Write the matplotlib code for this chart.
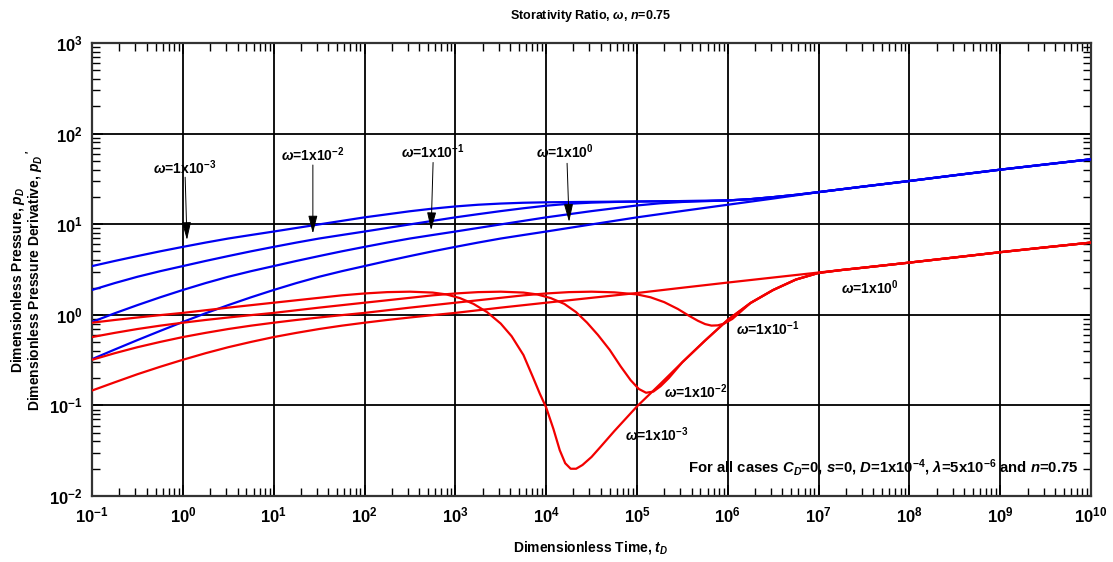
import numpy as np
import matplotlib
matplotlib.use("Agg")
import matplotlib.pyplot as plt
from matplotlib.ticker import FixedLocator, NullFormatter

plt.rcParams['font.family'] = ['Liberation Sans', 'DejaVu Sans']
plt.rcParams['font.weight'] = 'bold'
plt.rcParams['mathtext.fontset'] = 'custom'
plt.rcParams['mathtext.rm'] = 'Liberation Sans:bold'
plt.rcParams['mathtext.it'] = 'Liberation Sans:italic:bold'
plt.rcParams['mathtext.bf'] = 'Liberation Sans:bold'

# ---- dimensionless pressure p_D : log10(t_D) and value ----
pd_logt_w1 = [-1, -0.75, -0.5, -0.25, 0, 0.25, 0.5, 0.75, 1, 1.25, 1.5, 1.75, 2, 2.25, 2.5, 2.75, 3,
              3.25, 3.5, 3.75, 4, 4.5, 5, 5.5, 6, 6.5, 7, 7.5, 8, 8.5, 9, 9.5, 10]
pd_w1 = [0.324, 0.414, 0.526, 0.664, 0.834, 1.04, 1.28, 1.56, 1.88, 2.24, 2.63, 3.03, 3.45, 3.93, 4.45,
         5.02, 5.62, 6.27, 6.95, 7.6, 8.3, 9.95, 11.9, 14.0, 16.4, 19.2, 22.6, 26.1, 30.0, 34.7, 40.0,
         45.7, 52.1]

pd_logt_w01 = [-1, -0.75, -0.5, -0.25, 0, 0.25, 0.5, 0.75, 1, 1.25, 1.5, 1.75, 2, 2.25, 2.5, 2.75, 3,
               3.5, 4, 4.5, 5, 5.25, 5.5, 5.75, 6, 6.25, 6.5, 6.75, 7, 7.5, 8, 8.5, 9, 9.5, 10]
pd_w01 = [0.834, 1.04, 1.28, 1.56, 1.88, 2.24, 2.63, 3.03, 3.45, 3.93, 4.45, 5.02, 5.62, 6.27, 6.95, 7.6,
          8.3, 9.95, 11.9, 13.95, 16.1, 17.0, 17.6, 17.95, 18.3, 18.9, 19.9, 21.1, 22.6, 26.1, 30.0,
          34.7, 40.0, 45.7, 52.1]

pd_logt_w001 = [-1, -0.75, -0.5, -0.25, 0, 0.25, 0.5, 0.75, 1, 1.25, 1.5, 1.75, 2, 2.5, 3, 3.25, 3.5,
                3.75, 4, 4.25, 4.5, 4.75, 5, 5.5, 5.75, 6, 6.25, 6.5, 6.75, 7, 7.5, 8, 8.5, 9, 9.5, 10]
pd_w001 = [1.88, 2.24, 2.63, 3.03, 3.45, 3.93, 4.45, 5.02, 5.62, 6.27, 6.95, 7.6, 8.3, 9.95, 11.9, 12.9,
           13.95, 15.0, 16.0, 16.8, 17.3, 17.6, 17.8, 18.0, 18.1, 18.3, 18.9, 19.9, 21.1, 22.6, 26.1,
           30.0, 34.7, 40.0, 45.7, 52.1]

pd_logt_w0001 = [-1, -0.75, -0.5, -0.25, 0, 0.25, 0.5, 0.75, 1, 1.5, 2, 2.5, 2.75, 3, 3.25, 3.5, 3.75,
                 4, 4.5, 5, 5.5, 5.75, 6, 6.25, 6.5, 6.75, 7, 7.5, 8, 8.5, 9, 9.5, 10]
pd_w0001 = [3.45, 3.93, 4.45, 5.02, 5.62, 6.27, 6.95, 7.6, 8.3, 9.95, 11.9, 13.9, 14.85, 15.7, 16.4,
            16.9, 17.25, 17.45, 17.65, 17.8, 18.0, 18.1, 18.3, 18.9, 19.9, 21.1, 22.6, 26.1, 30.0,
            34.7, 40.0, 45.7, 52.1]

# ---- pressure derivative p_D' ----
dp_logt_w1 = [-1, -0.75, -0.5, -0.25, 0, 0.25, 0.5, 0.75, 1, 1.25, 1.5, 1.75, 2, 2.25, 2.5, 2.75, 3,
              3.5, 4, 4.5, 5, 5.5, 6, 6.5, 7, 7.5, 8, 8.5, 9, 9.5, 10]
dp_w1 = [0.146, 0.180, 0.221, 0.267, 0.319, 0.377, 0.439, 0.502, 0.568, 0.632, 0.697, 0.759, 0.818,
         0.877, 0.934, 0.992, 1.05, 1.2, 1.36, 1.54, 1.74, 1.99, 2.27, 2.58, 2.93, 3.32, 3.77, 4.30,
         4.91, 5.56, 6.27]

dp_logt_w01 = [-1, -0.75, -0.5, -0.25, 0, 0.25, 0.5, 0.75, 1, 1.25, 1.5, 1.75, 2, 2.5, 3, 3.5, 3.75, 4,
               4.25, 4.5, 4.75, 5, 5.15, 5.3, 5.45, 5.57, 5.67, 5.75, 5.82, 5.89, 5.96, 6.05, 6.15, 6.25,
               6.5, 6.75, 7, 7.25, 7.5, 8, 8.5, 9, 9.5, 10]
dp_w01 = [0.319, 0.377, 0.439, 0.502, 0.568, 0.632, 0.697, 0.759, 0.818, 0.877, 0.934, 0.992, 1.05, 1.2,
          1.36, 1.54, 1.64, 1.72, 1.78, 1.80, 1.77, 1.68, 1.56, 1.38, 1.16, 0.98, 0.86, 0.79, 0.76, 0.765,
          0.80, 0.90, 1.10, 1.35, 1.88, 2.45, 2.90, 3.12, 3.32, 3.77, 4.30, 4.91, 5.56, 6.27]

dp_logt_w001 = [-1, -0.75, -0.5, -0.25, 0, 0.25, 0.5, 0.75, 1, 1.5, 2, 2.5, 2.75, 3, 3.25, 3.5, 3.75, 3.9,
                4.05, 4.2, 4.33, 4.45, 4.57, 4.7, 4.82, 4.93, 5.02, 5.1, 5.18, 5.26, 5.35, 5.5, 5.75, 6,
                6.25, 6.5, 6.75, 7, 7.25, 7.5, 8, 8.5, 9, 9.5, 10]
dp_w001 = [0.568, 0.632, 0.697, 0.759, 0.818, 0.877, 0.934, 0.992, 1.05, 1.2, 1.36, 1.54, 1.64, 1.72,
           1.78, 1.80, 1.76, 1.68, 1.53, 1.32, 1.07, 0.82, 0.60, 0.41, 0.27, 0.19, 0.152, 0.138, 0.142,
           0.163, 0.20, 0.30, 0.52, 0.88, 1.35, 1.88, 2.45, 2.90, 3.12, 3.32, 3.77, 4.30, 4.91, 5.56, 6.27]

dp_logt_w0001 = [-1, -0.75, -0.5, -0.25, 0, 0.5, 1, 1.5, 1.75, 2, 2.25, 2.5, 2.75, 2.9, 3.05, 3.2, 3.35,
                 3.5, 3.62, 3.75, 3.85, 3.93, 4.0, 4.08, 4.15, 4.21, 4.27, 4.33, 4.4, 4.5, 4.6, 4.75, 5,
                 5.25, 5.5, 5.75, 6, 6.25, 6.5, 6.75, 7, 7.25, 7.5, 8, 8.5, 9, 9.5, 10]
dp_w0001 = [0.818, 0.877, 0.934, 0.992, 1.05, 1.2, 1.36, 1.54, 1.64, 1.72, 1.78, 1.80, 1.76, 1.68, 1.53,
            1.32, 1.07, 0.80, 0.58, 0.36, 0.21, 0.135, 0.095, 0.055, 0.032, 0.023, 0.020, 0.020, 0.022,
            0.027, 0.035, 0.052, 0.0975, 0.17, 0.30, 0.52, 0.88, 1.35, 1.88, 2.45, 2.90, 3.12, 3.32,
            3.77, 4.30, 4.91, 5.56, 6.27]

pressure_series = [(pd_logt_w0001, pd_w0001), (pd_logt_w001, pd_w001),
                   (pd_logt_w01, pd_w01), (pd_logt_w1, pd_w1)]
derivative_series = [(dp_logt_w0001, dp_w0001), (dp_logt_w001, dp_w001),
                     (dp_logt_w01, dp_w01), (dp_logt_w1, dp_w1)]

x_decades = list(range(-1, 11))
y_decades = list(range(-2, 4))

fig = plt.figure(figsize=(11.13, 5.62), dpi=100)
ax = fig.add_axes([0.0827, 0.1174, 0.8976, 0.8061])
ax.set_xscale('log')
ax.set_yscale('log')
ax.set_xlim(10.0 ** x_decades[0], 10.0 ** x_decades[-1])
ax.set_ylim(10.0 ** y_decades[0], 10.0 ** y_decades[-1])

BLUE = '#0000f2'
RED = '#f20000'
for lt, v in pressure_series:
    ax.plot(10.0 ** np.asarray(lt), v, color=BLUE, lw=1.6, zorder=3, solid_joinstyle='round')
for lt, v in derivative_series:
    ax.plot(10.0 ** np.asarray(lt), v, color=RED, lw=1.6, zorder=3, solid_joinstyle='round')

# ticks and grid
ax.xaxis.set_major_locator(FixedLocator([10.0 ** d for d in x_decades]))
ax.yaxis.set_major_locator(FixedLocator([10.0 ** d for d in y_decades]))
ax.set_xticklabels([r'$10^{%d}$' % d for d in x_decades])
ax.set_yticklabels([r'$10^{%d}$' % d for d in y_decades])
xminor = [m * 10.0 ** d for d in x_decades[:-1] for m in range(2, 10)]
yminor = [m * 10.0 ** d for d in y_decades[:-1] for m in range(2, 10)]
ax.xaxis.set_minor_locator(FixedLocator(xminor))
ax.yaxis.set_minor_locator(FixedLocator(yminor))
ax.xaxis.set_minor_formatter(NullFormatter())
ax.yaxis.set_minor_formatter(NullFormatter())
ax.tick_params(which='both', direction='in', top=True, right=True, colors='black')
ax.tick_params(which='major', length=8, width=1.2, labelsize=12, pad=7)
ax.tick_params(which='minor', length=6, width=1.0)
ax.grid(which='major', color='black', lw=1.3, zorder=1)
for s in ax.spines.values():
    s.set_linewidth(1.6)
    s.set_color('#333333')

# figure texts
fig.text(0.531, 0.9715, r'Storativity Ratio, $\omega$, $n$=0.75', ha='center', va='center', fontsize=9)
fig.text(0.531, 0.025, r'Dimensionless Time, $t_D$', ha='center', va='center', fontsize=10)
fig.text(0.016, 0.502, r'Dimensionless Pressure, $p_D$', rotation=90, ha='center', va='center', fontsize=10)
fig.text(0.032, 0.502, r"Dimensionless Pressure Derivative, $p_D\,'$", rotation=90, ha='center',
         va='center', fontsize=10)

# pressure curve call-outs
arrow_kw = dict(arrowstyle='-|>,head_length=1.1,head_width=0.28', color='black', lw=0.7,
                mutation_scale=10, shrinkA=0, shrinkB=0)
callouts = [
    (r'$\omega$=1x10$^{-3}$', (1.05, 42.0), (1.06, 33.0), (1.11, 6.7)),
    (r'$\omega$=1x10$^{-2}$', (27.0, 58.0), (27.0, 45.0), (27.0, 7.9)),
    (r'$\omega$=1x10$^{-1}$', (570.0, 63.0), (569.0, 48.0), (541.0, 8.6)),
    (r'$\omega$=1x10$^{0}$', (16000.0, 63.0), (17000.0, 47.0), (17900.0, 10.6)),
]
for label, tpos, tail, tip in callouts:
    ax.text(tpos[0], tpos[1], label, ha='center', va='center', fontsize=10, zorder=5)
    ax.annotate('', xy=tip, xytext=tail, arrowprops=arrow_kw, zorder=5)

# derivative curve labels
deriv_labels = [
    (r'$\omega$=1x10$^{0}$', (10 ** 7.568, 1.98)),
    (r'$\omega$=1x10$^{-1}$', (10 ** 6.445, 0.70)),
    (r'$\omega$=1x10$^{-2}$', (10 ** 5.652, 0.14)),
    (r'$\omega$=1x10$^{-3}$', (10 ** 5.222, 0.047)),
]
for label, pos in deriv_labels:
    ax.text(pos[0], pos[1], label, ha='center', va='center', fontsize=10, zorder=5)

ax.text(0.987, 0.062,
        r'For all cases $C_D$=0, $s$=0, $D$=1x10$^{-4}$, $\lambda$=5x10$^{-6}$ and $n$=0.75',
        transform=ax.transAxes, ha='right', va='center', fontsize=10.7, zorder=5)

fig.savefig('out.png', dpi=100, facecolor='white')
